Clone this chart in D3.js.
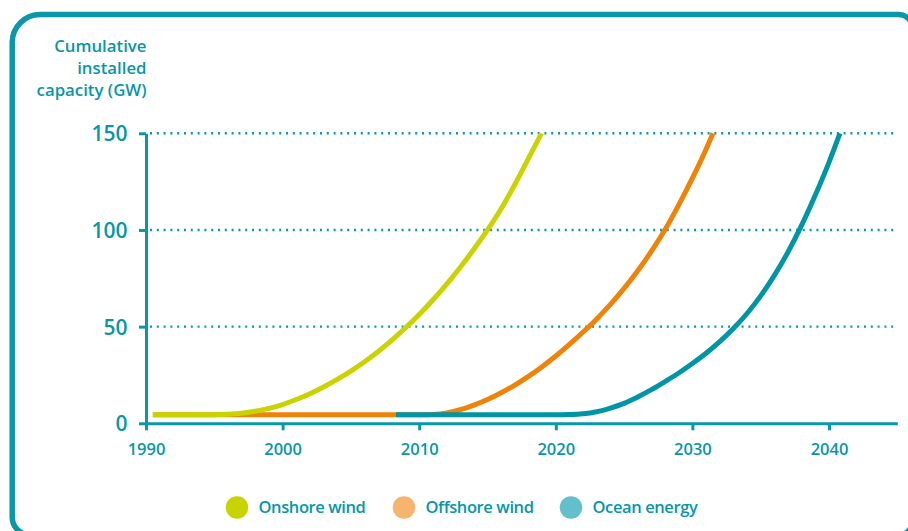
<!DOCTYPE html>
<html>
<head>
<meta charset="utf-8">
<script src="https://cdn.jsdelivr.net/npm/d3@7"></script>
<style>
  html, body { margin: 0; padding: 0; background: #ffffff; }
  svg { display: block; }
  text { font-family: "Open Sans", sans-serif; fill: #0a96a6; }
</style>
</head>
<body>
<svg id="chart" width="908" height="531"></svg>
<script>
// Cumulative installed capacity (GW) by technology, plotted against year
const onshoreYears  = [1990.5, 1992, 1994, 1995, 1996, 1997, 1998, 1999, 2000, 2001, 2002, 2003, 2004, 2005, 2006, 2007, 2008, 2009, 2010, 2011, 2012, 2013, 2014, 2015, 2016, 2017, 2018, 2018.95];
const onshoreValues = [4.4, 4.4, 4.4, 4.45, 4.7, 5.2, 6.2, 7.7, 9.7, 12.3, 15.3, 18.8, 22.7, 27.0, 31.8, 37.1, 43.0, 49.4, 56.3, 63.8, 71.9, 80.6, 90.0, 100.0, 111.0, 123.5, 137.0, 150];

const offshoreYears  = [1990.5, 2000, 2010, 2011, 2012, 2013, 2014, 2015, 2016, 2017, 2018, 2019, 2020, 2021, 2022, 2023, 2024, 2025, 2026, 2027, 2028, 2029, 2030, 2031, 2031.5];
const offshoreValues = [4.4, 4.4, 4.4, 4.6, 5.4, 7.0, 9.4, 12.3, 15.8, 19.8, 24.3, 29.3, 34.8, 40.8, 47.2, 54.0, 61.5, 69.8, 78.9, 89.0, 100.2, 113.0, 126.8, 141.8, 150];

const oceanYears  = [2008.3, 2015, 2020, 2021, 2022, 2023, 2024, 2025, 2026, 2027, 2028, 2029, 2030, 2031, 2032, 2033, 2034, 2035, 2036, 2037, 2038, 2039, 2040, 2040.8];
const oceanValues = [4.4, 4.4, 4.4, 4.5, 4.9, 6.0, 7.9, 10.3, 13.6, 17.4, 21.6, 26.0, 30.9, 36.2, 42.2, 49.0, 56.8, 65.9, 76.5, 88.6, 102.5, 118.1, 135.0, 150];

const xTickValues = [1990, 2000, 2010, 2020, 2030, 2040];
const yTickValues = [0, 50, 100, 150];
const gridValues  = [50, 100, 150];
const titleLines  = ["Cumulative", "installed", "capacity (GW)"];

const seriesNames   = ["Offshore wind", "Ocean energy", "Onshore wind"];   // drawing order
const legendNames   = ["Onshore wind", "Offshore wind", "Ocean energy"];
const lineColors    = { "Onshore wind": "#c9d300", "Offshore wind": "#ef8307", "Ocean energy": "#0095a5" };
const legendColors  = { "Onshore wind": "#c8d400", "Offshore wind": "#f7b46f", "Ocean energy": "#62bfcb" };

const teal = "#0a98a8";

const series = {
  "Onshore wind":  onshoreYears.map((yr, i) => ({ year: yr, value: onshoreValues[i] })),
  "Offshore wind": offshoreYears.map((yr, i) => ({ year: yr, value: offshoreValues[i] })),
  "Ocean energy":  oceanYears.map((yr, i) => ({ year: yr, value: oceanValues[i] }))
};

const svg = d3.select("#chart");

// Frame with mixed corner radii
(function drawFrame() {
  const L = 12.2, T = 14.6, R = 912, B = 535;
  const rTL = 28, rTR = 13, rBR = 13, rBL = 18;
  const p = d3.path();
  p.moveTo(L + rTL, T);
  p.lineTo(R - rTR, T);
  p.arcTo(R, T, R, T + rTR, rTR);
  p.lineTo(R, B - rBR);
  p.arcTo(R, B, R - rBR, B, rBR);
  p.lineTo(L + rBL, B);
  p.arcTo(L, B, L, B - rBL, rBL);
  p.lineTo(L, T + rTL);
  p.arcTo(L, T, L + rTL, T, rTL);
  p.closePath();
  svg.append("path").attr("d", p.toString())
    .attr("fill", "none").attr("stroke", teal).attr("stroke-width", 5.5);
})();

const x = d3.scaleLinear().domain([1990, 2045]).range([146, 897.3]);
const y = d3.scaleLinear().domain([0, 150]).range([423.3, 133.3]);

// Dotted gridlines
svg.append("g").selectAll("line").data(gridValues).join("line")
  .attr("x1", 150).attr("x2", 897)
  .attr("y1", d => y(d)).attr("y2", d => y(d))
  .attr("stroke", teal).attr("stroke-width", 2.4)
  .attr("stroke-dasharray", "2 4.8");

// Axes
const xAxis = svg.append("g").attr("transform", `translate(0,${y(0)})`)
  .call(d3.axisBottom(x).tickValues(xTickValues).tickFormat(d3.format("d")).tickSize(7).tickSizeOuter(0));
xAxis.select(".domain").attr("stroke", teal).attr("stroke-width", 3);
xAxis.selectAll(".tick line").attr("stroke", teal).attr("stroke-width", 3);
xAxis.selectAll(".tick text").attr("y", 31.5).attr("dy", null)
  .style("font-size", "16.5px").style("font-weight", 600).attr("fill", "#0a96a6");

const yAxis = svg.append("g").attr("transform", `translate(${x(1990)},0)`)
  .call(d3.axisLeft(y).tickValues(yTickValues).tickSize(7).tickSizeOuter(0).tickPadding(11.5));
yAxis.select(".domain").attr("stroke", teal).attr("stroke-width", 3);
yAxis.selectAll(".tick line").attr("stroke", teal).attr("stroke-width", 3);
yAxis.selectAll(".tick text").attr("dy", "0.36em")
  .style("font-size", "21px").style("font-weight", 600).attr("fill", "#0a96a6");

// Axis title
svg.append("text")
  .attr("text-anchor", "end")
  .style("font-size", "16.8px").style("font-weight", 600)
  .selectAll("tspan").data(titleLines).join("tspan")
  .attr("x", 146.5).attr("y", (d, i) => 51.5 + i * 22.3)
  .text(d => d);

// Series lines
const line = d3.line().x(d => x(d.year)).y(d => y(d.value)).curve(d3.curveMonotoneX);
svg.append("g").selectAll("path").data(seriesNames).join("path")
  .attr("d", name => line(series[name]))
  .attr("fill", "none")
  .attr("stroke", name => lineColors[name])
  .attr("stroke-width", 5);

// Legend
const legendX = [237, 404, 571];
const legend = svg.append("g").selectAll("g").data(legendNames).join("g")
  .attr("transform", (d, i) => `translate(${legendX[i]},507.5)`);
legend.append("circle").attr("r", 11.3).attr("fill", d => legendColors[d]);
legend.append("text").attr("x", 21.5).attr("dy", "0.36em")
  .style("font-size", "16.5px").style("font-weight", 600)
  .style("letter-spacing", "-0.4px")
  .text(d => d);
</script>
</body>
</html>
